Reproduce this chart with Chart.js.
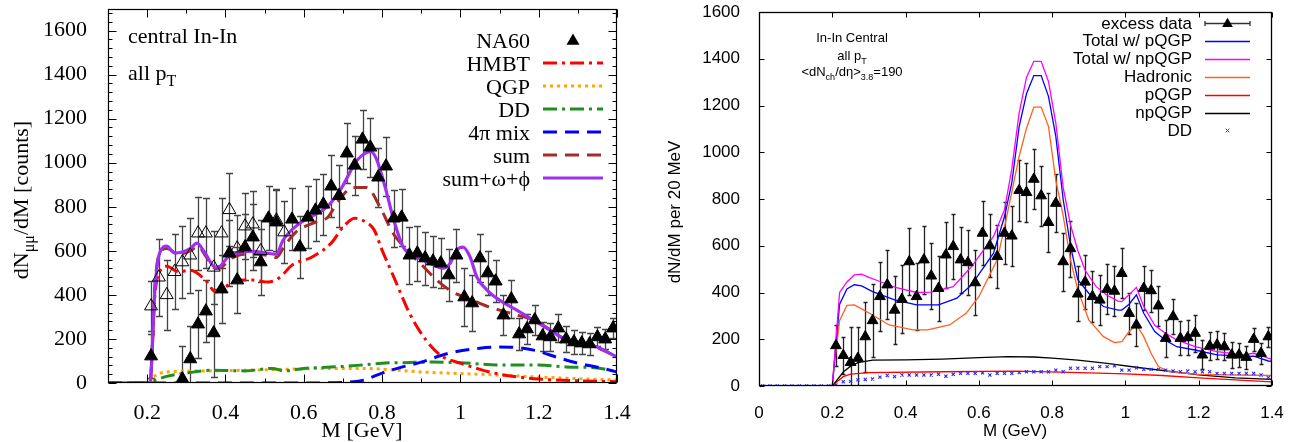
<!DOCTYPE html>
<html><head><meta charset="utf-8">
<script src="https://cdn.jsdelivr.net/npm/chart.js@4.4.1/dist/chart.umd.min.js"></script>
<style>
html,body{margin:0;padding:0;background:#fff;}
#wrap{position:relative;width:1299px;height:442px;overflow:hidden;background:#fff;}
#c1{position:absolute;left:0;top:0;}
#c2{position:absolute;left:640px;top:0;}
</style></head><body>
<div id="wrap"><canvas id="c1" width="640" height="442"></canvas><canvas id="c2" width="659" height="442"></canvas></div>
<script>
// ================= LEFT PANEL DATA =================
const L_X_TICKS = [0.2,0.4,0.6,0.8,1.0,1.2,1.4];
const L_X_LABELS = ['0.2','0.4','0.6','0.8','1','1.2','1.4'];
const L_Y_TICKS = [0,200,400,600,800,1000,1200,1400,1600];
const L_Y_LABELS = ['0','200','400','600','800','1000','1200','1400','1600'];

const na60M = [0.21,0.29,0.31,0.33,0.35,0.37,0.39,0.41,0.43,0.45,0.47,0.49,0.51,0.53,0.57,0.59,0.61,0.63,0.65,0.67,0.69,0.71,0.73,0.75,0.77,0.79,0.81,0.83,0.85,0.87,0.89,0.91,0.93,0.95,0.97,0.99,1.01,1.03,1.05,1.07,1.09,1.11,1.13,1.15,1.17,1.19,1.21,1.23,1.25,1.27,1.29,1.31,1.33,1.35,1.37,1.39];
const na60V = [122,18,109,267,326,227,426,589,467,617,662,549,748,730,743,617,752,784,811,893,850,1043,988,1106,1070,934,984,748,752,580,589,567,553,544,490,580,390,363,567,499,462,308,381,222,245,286,213,209,249,199,186,181,177,209,199,249];
const na60Err = [100,150,150,155,140,200,155,150,150,150,150,150,145,145,140,140,140,140,140,140,140,136,135,134,134,134,134,130,130,130,125,120,115,113,118,120,130,125,110,100,95,90,85,72,70,68,66,64,64,60,55,50,48,43,45,45];

const openM = [0.21,0.23,0.25,0.27,0.29,0.31,0.33,0.35,0.37,0.39,0.41,0.43,0.45,0.47,0.49,0.53,0.55];
const openV = [349,480,400,505,549,580,680,680,525,680,786,612,712,721,600,739,685];
const openErr = [115,175,160,170,165,170,165,160,165,160,166,150,150,150,140,140,140];

const hmbtCurve = [[0.1,0],[0.207,0],[0.22,400],[0.235,515],[0.25,530],[0.28,505],[0.31,512],[0.35,465],[0.375,413],[0.395,430],[0.43,467],[0.47,467],[0.51,458],[0.54,481],[0.57,535],[0.62,571],[0.67,635],[0.70,707],[0.73,748],[0.75,739],[0.78,694],[0.80,603],[0.83,481],[0.87,317],[0.91,200],[0.95,125],[1.0,90],[1.05,62],[1.1,40],[1.15,27],[1.2,18],[1.3,10],[1.4,6]];
const qgpCurve = [[0.1,0],[0.205,0],[0.215,25],[0.235,45],[0.27,52],[0.35,55],[0.45,58],[0.55,62],[0.65,66],[0.75,66],[0.85,57],[0.9,50],[1.0,43],[1.1,36],[1.2,27],[1.3,20],[1.4,14]];
const ddCurve = [[0.1,0],[0.205,0],[0.22,12],[0.25,30],[0.3,45],[0.37,58],[0.45,55],[0.52,66],[0.55,55],[0.6,66],[0.7,75],[0.75,82],[0.8,90],[0.87,93],[0.93,95],[1.0,92],[1.1,82],[1.2,82],[1.27,73],[1.35,68],[1.4,50]];
const mixCurve = [[0.1,0],[0.6,0],[0.7,3],[0.75,12],[0.8,45],[0.85,72],[0.9,95],[0.97,135],[1.05,158],[1.1,163],[1.15,160],[1.19,148],[1.25,115],[1.3,90],[1.36,68],[1.4,50]];
const sumCurve = [[0.1,0],[0.207,0],[0.22,450],[0.232,590],[0.25,610],[0.28,585],[0.31,600],[0.33,620],[0.35,575],[0.375,520],[0.39,525],[0.41,560],[0.45,585],[0.48,585],[0.52,575],[0.53,570],[0.55,620],[0.58,685],[0.63,730],[0.66,750],[0.69,830],[0.726,888],[0.76,888],[0.795,798],[0.828,680],[0.864,603],[0.897,544],[0.94,467],[0.98,413],[1.02,385],[1.06,354],[1.1,331],[1.145,308],[1.19,284],[1.23,240],[1.27,195],[1.31,178],[1.35,160],[1.4,118]];
const totCurve = [[0.1,0],[0.207,0],[0.22,430],[0.232,590],[0.25,621],[0.27,590],[0.29,595],[0.31,610],[0.327,635],[0.348,590],[0.373,526],[0.386,530],[0.406,571],[0.445,594],[0.47,598],[0.506,589],[0.53,585],[0.547,648],[0.583,716],[0.634,770],[0.659,798],[0.693,875],[0.736,1011],[0.761,1047],[0.772,1050],[0.787,1011],[0.808,888],[0.828,752],[0.854,617],[0.889,571],[0.922,544],[0.956,521],[0.974,544],[0.99,603],[1.007,617],[1.025,571],[1.042,481],[1.068,422],[1.1,376],[1.144,331],[1.186,286],[1.229,240],[1.272,195],[1.313,181],[1.349,163],[1.4,118]];

// ================= RIGHT PANEL DATA =================
const R_X_TICKS = [0,0.2,0.4,0.6,0.8,1.0,1.2,1.4];
const R_X_LABELS = ['0','0.2','0.4','0.6','0.8','1','1.2','1.4'];
const R_Y_TICKS = [0,200,400,600,800,1000,1200,1400,1600];
const R_Y_LABELS = ['0','200','400','600','800','1000','1200','1400','1600'];

const excessM = [0.21,0.23,0.25,0.27,0.29,0.31,0.33,0.35,0.37,0.39,0.41,0.43,0.45,0.47,0.49,0.51,0.53,0.55,0.57,0.59,0.61,0.63,0.65,0.67,0.69,0.71,0.73,0.75,0.77,0.79,0.81,0.83,0.85,0.87,0.89,0.91,0.93,0.95,0.97,0.99,1.01,1.03,1.05,1.07,1.09,1.11,1.13,1.15,1.17,1.19,1.21,1.23,1.25,1.27,1.29,1.31,1.33,1.35,1.37,1.39];
const excessV = [173,131,101,119,211,280,383,433,325,371,532,383,540,471,418,561,597,540,528,442,654,600,554,654,642,837,828,885,814,700,782,532,588,394,445,383,368,414,406,482,311,261,418,408,343,204,297,204,207,226,133,171,176,168,133,133,123,200,140,211];
const excessErr = [88,80,150,132,150,155,147,147,145,145,143,145,146,140,140,140,140,140,138,138,137,135,135,132,130,130,128,128,128,126,124,124,120,118,115,110,108,106,106,107,89,92,95,90,85,78,74,72,76,79,62,60,60,58,55,52,50,50,46,43];

const magCurve = [[0,0],[0.2,0],[0.21,200],[0.22,400],[0.24,445],[0.26,475],[0.28,478],[0.30,465],[0.33,447],[0.37,423],[0.43,400],[0.47,402],[0.53,425],[0.58,511],[0.64,640],[0.67,754],[0.69,930],[0.71,1168],[0.73,1320],[0.75,1389],[0.77,1389],[0.79,1303],[0.81,1125],[0.83,850],[0.85,690],[0.87,580],[0.89,495],[0.92,425],[0.95,388],[0.98,363],[0.99,361],[1.01,390],[1.03,422],[1.05,340],[1.08,260],[1.11,225],[1.14,197],[1.19,168],[1.25,147],[1.29,140],[1.32,133],[1.35,140],[1.39,119],[1.4,115]];
const pTotCurve = [[0,0],[0.2,0],[0.21,180],[0.22,350],[0.24,415],[0.26,433],[0.28,428],[0.31,404],[0.37,368],[0.43,347],[0.49,347],[0.54,376],[0.58,433],[0.64,568],[0.67,725],[0.69,870],[0.71,1110],[0.73,1250],[0.75,1328],[0.77,1328],[0.79,1239],[0.81,1068],[0.83,800],[0.85,600],[0.87,455],[0.90,397],[0.94,340],[0.98,325],[0.99,325],[1.01,350],[1.03,390],[1.05,311],[1.08,233],[1.11,195],[1.14,168],[1.19,154],[1.25,133],[1.29,130],[1.32,126],[1.35,128],[1.39,107],[1.4,105]];
const hadCurve = [[0,0],[0.2,0],[0.21,150],[0.22,280],[0.24,345],[0.26,347],[0.28,330],[0.31,304],[0.355,261],[0.42,240],[0.46,240],[0.52,261],[0.565,311],[0.60,382],[0.65,540],[0.67,680],[0.69,830],[0.71,982],[0.73,1103],[0.75,1193],[0.77,1193],[0.79,1111],[0.81,880],[0.83,730],[0.85,540],[0.87,411],[0.90,283],[0.94,211],[0.97,186],[0.99,190],[1.01,233],[1.03,261],[1.05,211],[1.07,140],[1.09,83],[1.12,61],[1.2,50],[1.3,47],[1.4,45]];
const pqgpCurve = [[0,0],[0.2,0],[0.21,15],[0.23,40],[0.25,51],[0.3,57],[0.5,61],[0.7,64],[0.85,58],[1.0,52],[1.1,45],[1.2,35],[1.3,26],[1.4,18]];
const npqgpCurve = [[0,0],[0.2,0],[0.21,20],[0.23,60],[0.25,85],[0.27,100],[0.31,111],[0.4,112],[0.5,115],[0.6,121],[0.68,126],[0.75,124],[0.8,119],[0.87,111],[0.95,97],[1.05,76],[1.14,59],[1.2,48],[1.3,35],[1.4,28]];
const rDDM = [0.01,0.03,0.05,0.07,0.09,0.11,0.13,0.15,0.17,0.19,0.21,0.23,0.25,0.27,0.29,0.31,0.33,0.35,0.37,0.39,0.41,0.43,0.45,0.47,0.49,0.51,0.53,0.55,0.57,0.59,0.61,0.63,0.65,0.67,0.69,0.71,0.73,0.75,0.77,0.79,0.81,0.83,0.85,0.87,0.89,0.91,0.93,0.95,0.97,0.99,1.01,1.03,1.05,1.07,1.09,1.11,1.13,1.15,1.17,1.19,1.21,1.23,1.25,1.27,1.29,1.31,1.33,1.35,1.37,1.39];
const rDDV = [0,0,0,0,0,0,0,0,0,0,5,18,20,26,28,30,38,45,40,47,47,47,47,47,50,42,50,54,54,54,56,47,54,54,54,57,61,61,61,61,68,61,76,76,76,76,83,83,86,68,68,78,71,71,71,68,64,61,64,61,61,61,54,54,54,54,54,54,47,36];

// ================= HELPERS =================
const SERIF = "'Liberation Serif', 'DejaVu Serif', serif";
const SANS = "'Liberation Sans', Arial, sans-serif";
function pts(ms, vs){ return ms.map((m,i)=>({x:m,y:vs[i]})); }
function pairs(a){ return a.map(p=>({x:p[0],y:p[1]})); }
function labelFor(ticks, labels){ return v => { const i = ticks.findIndex(t=>Math.abs(t-v)<1e-9); return i<0?'':labels[i]; }; }
function fixSize(prop, val){ return s => { s[prop] = val; s.paddingTop = 0; s.paddingBottom = 0; s.paddingLeft = 0; s.paddingRight = 0; }; }

function rich(ctx, parts, x, y, align, size, family){
  const sub = Math.round(size*0.72), dy = size*0.28;
  let w = 0;
  parts.forEach(p=>{ ctx.font = (p[1]?sub:size)+'px '+family; w += ctx.measureText(p[0]).width; });
  let cx = align==='right' ? x-w : (align==='center' ? x-w/2 : x);
  ctx.textAlign='left'; ctx.textBaseline='alphabetic';
  parts.forEach(p=>{ ctx.font = (p[1]?sub:size)+'px '+family; ctx.fillText(p[0], cx, y+(p[1]?dy:0)); cx += ctx.measureText(p[0]).width; });
}

const errorBars = {
  id:'errorBars',
  beforeDatasetsDraw(chart){
    const ctx = chart.ctx, a = chart.chartArea, xs = chart.scales.x, ys = chart.scales.y;
    ctx.save();
    ctx.beginPath(); ctx.rect(a.left, a.top, a.right-a.left, a.bottom-a.top); ctx.clip();
    chart.data.datasets.forEach(ds=>{
      if(!ds.errors) return;
      ctx.strokeStyle = ds.errColor; ctx.lineWidth = ds.errWidth; ctx.setLineDash([]);
      const cap = ds.errCap;
      ds.data.forEach((p,i)=>{
        const e = ds.errors[i];
        const px = Math.round(xs.getPixelForValue(p.x))+0.5;
        const y1 = Math.round(ys.getPixelForValue(p.y-e))+0.5, y2 = Math.round(ys.getPixelForValue(p.y+e))+0.5;
        ctx.beginPath();
        ctx.moveTo(px,y1); ctx.lineTo(px,y2);
        ctx.moveTo(px-cap,y1); ctx.lineTo(px+cap,y1);
        ctx.moveTo(px-cap,y2); ctx.lineTo(px+cap,y2);
        ctx.stroke();
      });
    });
    ctx.restore();
  }
};

function frameTicks(opt){
  return {
    id:'frameTicks',
    afterDraw(chart){
      const ctx = chart.ctx, a = chart.chartArea, xs = chart.scales.x, ys = chart.scales.y;
      ctx.save(); ctx.setLineDash([]);
      ctx.strokeStyle = '#000'; ctx.lineWidth = 1;
      const L = Math.round(a.left)+0.5, R = Math.round(a.right)-0.5, T = Math.round(a.top)+0.5, B = Math.round(a.bottom)-0.5;
      ctx.beginPath();
      const tick = (v, len, horiz) => {
        if(horiz){ const px = Math.round(xs.getPixelForValue(v))+0.5; ctx.moveTo(px,B); ctx.lineTo(px,B-len); ctx.moveTo(px,T); ctx.lineTo(px,T+len); }
        else { const py = Math.round(ys.getPixelForValue(v))+0.5; ctx.moveTo(L,py); ctx.lineTo(L+len,py); ctx.moveTo(R,py); ctx.lineTo(R-len,py); }
      };
      opt.xMajor.forEach(v=>tick(v,opt.majLen,true));
      opt.xMinor.forEach(v=>tick(v,opt.minLen,true));
      opt.yMajor.forEach(v=>tick(v,opt.majLen,false));
      opt.yMinor.forEach(v=>tick(v,opt.minLen,false));
      ctx.stroke();
      ctx.lineWidth = opt.frameWidth;
      ctx.strokeRect(L, T, R-L, B-T);
      ctx.restore();
      opt.extra(ctx, chart);
    }
  };
}

function lineDS(curve, color, width, dash, order, smooth){
  return {data:pairs(curve), showLine:true, borderColor:color, backgroundColor:color, borderWidth:width, borderDash:dash, pointRadius:0, pointHoverRadius:0, fill:false, order:order, cubicInterpolationMode: smooth?'monotone':'default', tension:0};
}

// ================= LEFT CHART =================
const L_COL = {hmbt:'#ff0000', qgp:'#ffa500', dd:'#1f8f1f', mix:'#0000ff', sum:'#a52a2a', tot:'#a030f0'};
const L_DASH = {hmbt:[14,5,3,5], qgp:[3,4], dd:[14,5,3,5], mix:[14,8], sum:[14,8], tot:[]};

const leftExtra = (ctx, chart) => {
  ctx.save(); ctx.fillStyle = '#000';
  ctx.save(); ctx.translate(28, 200); ctx.rotate(-Math.PI/2);
  rich(ctx, [['dN',0],['\u03bc\u03bc',1],['/dM [counts]',0]], 0, 0, 'center', 22, SERIF);
  ctx.restore();
  rich(ctx, [['M [GeV]',0]], 362, 437, 'center', 22, SERIF);
  rich(ctx, [['central In-In',0]], 128, 43, 'left', 22, SERIF);
  rich(ctx, [['all p',0],['T',1]], 128, 80, 'left', 22, SERIF);
  const items = [
    {t:'NA60', tri:true},
    {t:'HMBT', k:'hmbt'}, {t:'QGP', k:'qgp'}, {t:'DD', k:'dd'},
    {t:'4\u03c0 mix', k:'mix'}, {t:'sum', k:'sum'}, {t:'sum+\u03c9+\u03d5', k:'tot'}
  ];
  items.forEach((it,i)=>{
    const base = 48 + i*23;
    ctx.fillStyle = '#000';
    rich(ctx, [[it.t,0]], 530, base, 'right', 22, SERIF);
    const ly = base - 8;
    if(it.tri){
      const r = 7.5, cx = 573, cy = ly+1;
      ctx.beginPath();
      ctx.moveTo(cx, cy - r); ctx.lineTo(cx + r*0.866, cy + r*0.5); ctx.lineTo(cx - r*0.866, cy + r*0.5); ctx.closePath(); ctx.fill();
    } else {
      ctx.strokeStyle = L_COL[it.k]; ctx.lineWidth = 3; ctx.setLineDash(L_DASH[it.k]);
      ctx.beginPath(); ctx.moveTo(543, ly); ctx.lineTo(603, ly); ctx.stroke();
      ctx.setLineDash([]);
    }
  });
  ctx.restore();
};

const lxMinor = [0.1,0.3,0.5,0.7,0.9,1.1,1.3];
const lyMinor = []; for(let v=0; v<=1700; v+=40){ if(v%200!==0) lyMinor.push(v); }

new Chart(document.getElementById('c1'), {
  type:'scatter',
  data:{datasets:[
    {label:'NA60', data:pts(na60M,na60V), errors:na60Err, errColor:'#444', errWidth:1.3, errCap:3.5, pointStyle:'triangle', pointRadius:7.5, pointHoverRadius:7.5, backgroundColor:'#000', borderColor:'#000', borderWidth:1, showLine:false, order:0},
    {label:'open', data:pts(openM,openV), errors:openErr, errColor:'#444', errWidth:1.3, errCap:3.5, pointStyle:'triangle', pointRadius:7.5, pointHoverRadius:7.5, backgroundColor:'rgba(0,0,0,0)', borderColor:'#000', borderWidth:1, showLine:false, order:1},
    lineDS(totCurve, L_COL.tot, 3.2, L_DASH.tot, 2, true),
    lineDS(sumCurve, L_COL.sum, 3, L_DASH.sum, 3, true),
    lineDS(hmbtCurve, L_COL.hmbt, 3, L_DASH.hmbt, 4, true),
    lineDS(mixCurve, L_COL.mix, 3, L_DASH.mix, 5, true),
    lineDS(ddCurve, L_COL.dd, 3, L_DASH.dd, 6, true),
    lineDS(qgpCurve, L_COL.qgp, 3, L_DASH.qgp, 7, true)
  ]},
  options:{
    responsive:false, animation:false, events:[],
    layout:{padding:{left:0,right:23,top:8,bottom:0}},
    plugins:{legend:{display:false}, tooltip:{enabled:false}},
    scales:{
      x:{type:'linear', min:0.1, max:1.4,
        afterFit: fixSize('height', 59),
        afterBuildTicks(s){ s.ticks = L_X_TICKS.map(v=>({value:v})); },
        ticks:{callback:labelFor(L_X_TICKS,L_X_LABELS), font:{family:SERIF,size:22}, color:'#000', padding:9, maxRotation:0, autoSkip:false},
        grid:{display:false}, border:{display:false}},
      y:{type:'linear', min:0, max:1700,
        afterFit: fixSize('width', 108),
        afterBuildTicks(s){ s.ticks = L_Y_TICKS.map(v=>({value:v})); },
        ticks:{callback:labelFor(L_Y_TICKS,L_Y_LABELS), font:{family:SERIF,size:22}, color:'#000', padding:13, autoSkip:false},
        grid:{display:false}, border:{display:false}}
    }
  },
  plugins:[errorBars, frameTicks({xMajor:L_X_TICKS, xMinor:lxMinor, yMajor:L_Y_TICKS, yMinor:lyMinor, majLen:8, minLen:4, frameWidth:1.2, extra:leftExtra})]
});

// ================= RIGHT CHART =================
const R_COL = {ptot:'#0000ff', mag:'#ff00ff', had:'#ff6020', pq:'#ff0000', npq:'#000000', dd:'#2a2aff'};

const rightExtra = (ctx, chart) => {
  ctx.save(); ctx.fillStyle = '#000';
  ctx.save(); ctx.translate(40, 212); ctx.rotate(-Math.PI/2);
  rich(ctx, [['dN/dM per 20 MeV',0]], 0, 0, 'center', 17, SANS);
  ctx.restore();
  rich(ctx, [['M (GeV)',0]], 375, 436, 'center', 17, SANS);
  rich(ctx, [['In-In Central',0]], 212, 41.5, 'center', 13, SANS);
  rich(ctx, [['all p',0],['T',1]], 212, 60, 'center', 13, SANS);
  rich(ctx, [['<dN',0],['ch',1],['/d\u03b7>',0],['3.8',1],['=190',0]], 212, 76, 'center', 13, SANS);
  const items = [
    {t:'excess data', k:'data'}, {t:'Total w/ pQGP', k:'ptot'}, {t:'Total w/ npQGP', k:'mag'},
    {t:'Hadronic', k:'had'}, {t:'pQGP', k:'pq'}, {t:'npQGP', k:'npq'}, {t:'DD', k:'dd'}
  ];
  items.forEach((it,i)=>{
    const base = 28.5 + i*17.9;
    ctx.fillStyle = '#000';
    rich(ctx, [[it.t,0]], 552, base, 'right', 17, SANS);
    const ly = Math.round(base - 5.5) + 0.5;
    if(it.k==='data'){
      ctx.strokeStyle = '#333'; ctx.lineWidth = 1.3;
      ctx.beginPath(); ctx.moveTo(565, ly); ctx.lineTo(610, ly);
      ctx.moveTo(565, ly-2.5); ctx.lineTo(565, ly+2.5); ctx.moveTo(610, ly-2.5); ctx.lineTo(610, ly+2.5); ctx.stroke();
      const r = 6.2, cx = 587.5, cy = ly+0.5; ctx.fillStyle = '#000';
      ctx.beginPath(); ctx.moveTo(cx, cy-r); ctx.lineTo(cx+r*0.866, cy+r*0.5); ctx.lineTo(cx-r*0.866, cy+r*0.5); ctx.closePath(); ctx.fill();
    } else if(it.k==='dd'){
      ctx.strokeStyle = R_COL.dd; ctx.lineWidth = 1;
      const cx = 587.5, cy = ly, s = 1.8;
      ctx.beginPath(); ctx.moveTo(cx-s,cy-s); ctx.lineTo(cx+s,cy+s); ctx.moveTo(cx-s,cy+s); ctx.lineTo(cx+s,cy-s); ctx.stroke();
    } else {
      ctx.strokeStyle = R_COL[it.k]; ctx.lineWidth = 1.3;
      ctx.beginPath(); ctx.moveTo(565, ly); ctx.lineTo(610, ly); ctx.stroke();
    }
  });
  ctx.restore();
};

new Chart(document.getElementById('c2'), {
  type:'scatter',
  data:{datasets:[
    {label:'excess data', data:pts(excessM,excessV), errors:excessErr, errColor:'#222', errWidth:1.3, errCap:2, pointStyle:'triangle', pointRadius:6.2, pointHoverRadius:6.2, backgroundColor:'#000', borderColor:'#000', borderWidth:1, showLine:false, order:0},
    {label:'DD', data:pts(rDDM,rDDV), pointStyle:'crossRot', pointRadius:2.2, pointHoverRadius:2.2, borderColor:R_COL.dd, backgroundColor:R_COL.dd, borderWidth:1.1, showLine:false, order:1},
    lineDS(magCurve, R_COL.mag, 1.3, [], 2, false),
    lineDS(pTotCurve, R_COL.ptot, 1.3, [], 3, false),
    lineDS(hadCurve, R_COL.had, 1.3, [], 4, false),
    lineDS(npqgpCurve, R_COL.npq, 1.3, [], 5, false),
    lineDS(pqgpCurve, R_COL.pq, 1.3, [], 6, false)
  ]},
  options:{
    responsive:false, animation:false, events:[],
    layout:{padding:{left:0,right:27,top:12,bottom:0}},
    plugins:{legend:{display:false}, tooltip:{enabled:false}},
    scales:{
      x:{type:'linear', min:0, max:1.4,
        afterFit: fixSize('height', 56),
        afterBuildTicks(s){ s.ticks = R_X_TICKS.map(v=>({value:v})); },
        ticks:{callback:labelFor(R_X_TICKS,R_X_LABELS), font:{family:SANS,size:17}, color:'#000', padding:9, maxRotation:0, autoSkip:false},
        grid:{display:false}, border:{display:false}},
      y:{type:'linear', min:0, max:1600,
        afterFit: fixSize('width', 119),
        afterBuildTicks(s){ s.ticks = R_Y_TICKS.map(v=>({value:v})); },
        ticks:{callback:labelFor(R_Y_TICKS,R_Y_LABELS), font:{family:SANS,size:17}, color:'#000', padding:11, autoSkip:false},
        grid:{display:false}, border:{display:false}}
    }
  },
  plugins:[errorBars, frameTicks({xMajor:R_X_TICKS, xMinor:[], yMajor:R_Y_TICKS, yMinor:[], majLen:5, minLen:0, frameWidth:1.3, extra:rightExtra})]
});
</script>
</body></html>
